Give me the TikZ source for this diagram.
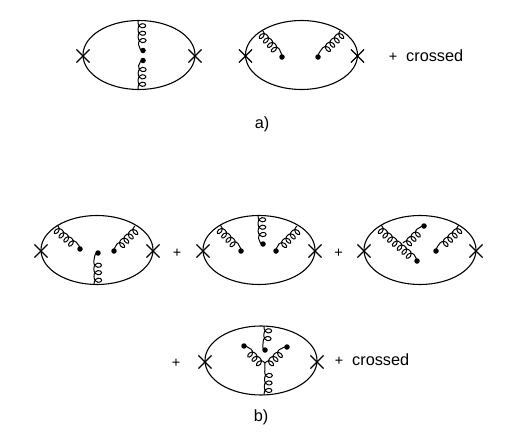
\documentclass[tikz,border=0pt]{standalone}
\usepackage{fontspec}
\setmainfont{Liberation Sans}
\usetikzlibrary{shapes.geometric,shapes.misc,decorations.pathmorphing}
\def\gw{7.5pt}
\pgfdeclaredecoration{gloop}{loopstate}{
  \state{loopstate}[width=\gw,switch if less than=\gw to finalstate]{
    \pgfpathcurveto{\pgfpoint{\gw+0.4pt}{0.2pt}}{\pgfpoint{\gw-1.1pt}{7.8pt}}{\pgfpoint{\gw/2}{7.8pt}}
    \pgfpathcurveto{\pgfpoint{1.1pt}{7.8pt}}{\pgfpoint{-0.4pt}{0.2pt}}{\pgfpoint{\gw}{0pt}}
  }
  \state{finalstate}{\pgfpathlineto{\pgfpointdecoratedpathlast}}
}
\tikzset{
  loopline/.style={draw,ellipse,line width=1.1pt,minimum width=112pt,minimum height=69pt,inner sep=0pt},
  xmark/.style={draw,cross out,line width=1.1pt,minimum size=12pt,inner sep=0pt},
  gdot/.style={fill=black,circle,minimum size=5.5pt,inner sep=0pt},
  gluon/.style={line width=1pt,line join=round,out looseness=1.4,in looseness=0.45,decorate,decoration={gloop,pre=curveto,post=curveto,pre length=1pt,post length=5pt}},
  gluonm/.style={gluon,decoration={mirror}},
  diag/.style={/utils/exec={\def\gw{6.2pt}},decoration={post length=3pt}},
  diagr/.style={/utils/exec={\def\gw{6.2pt}},decoration={post length=6pt}},
  lab/.style={font=\fontsize{16.3}{19}\selectfont,inner sep=0pt},
  plus/.style={font=\fontsize{14.5}{17}\selectfont,inner sep=0pt},
}
\begin{document}
\begin{tikzpicture}[x=1pt,y=-1pt]
\useasboundingbox (0,0) rectangle (507,442);
% diagram 1
\node[loopline] (L1) at (139,55) {};
\node[xmark] (X1a) at (83,56) {};
\node[xmark] (X1b) at (195,56) {};
\coordinate (V1a) at (138,21);
\coordinate (V1b) at (138,89);
\node[gdot] (D1a) at (143,50.5) {};
\node[gdot] (D1b) at (143,60.5) {};
\draw[gluon] (V1a) to[out=-90,in=-170] (D1a.center);
\draw[gluonm] (V1b) to[out=90,in=170] (D1b.center);
% diagram 2
\node[loopline] (L2) at (301.5,55) {};
\node[xmark] (X2a) at (245.5,56) {};
\node[xmark] (X2b) at (357.5,56) {};
\coordinate (V2a) at (262,30);
\coordinate (V2b) at (341,30);
\node[gdot] (D2a) at (282,57) {};
\node[gdot] (D2b) at (318,57) {};
\draw[gluonm,diag] (V2a) to[out=-45,in=90] (D2a.center);
\draw[gluon,diagr] (V2b) to[out=-135,in=90] (D2b.center);
\node[plus] (P1) at (393,57) {+};
\node[lab,anchor=west] (C1) at (406,56) {crossed};
\node[lab] (A) at (262,124) {a)};
% diagram 3
\node[loopline] (L3) at (97,250) {};
\node[xmark] (X3a) at (41,251) {};
\node[xmark] (X3b) at (153,251) {};
\coordinate (V3a) at (57,225);
\coordinate (V3b) at (135,226);
\coordinate (V3c) at (94,285);
\node[gdot] (D3a) at (80,249) {};
\node[gdot] (D3b) at (114,251) {};
\node[gdot] (D3c) at (98,253) {};
\draw[gluonm,diag] (V3a) to[out=-45,in=90] (D3a.center);
\draw[gluon,diagr] (V3b) to[out=-135,in=90] (D3b.center);
\draw[gluonm] (V3c) to[out=90,in=170] (D3c.center);
\node[plus] (P2) at (177,253) {+};
% diagram 4
\node[loopline] (L4) at (259,250) {};
\node[xmark] (X4a) at (203,251) {};
\node[xmark] (X4b) at (315,251) {};
\coordinate (V4a) at (220,225);
\coordinate (V4b) at (258,215);
\coordinate (V4c) at (297,226);
\node[gdot] (D4a) at (241,251) {};
\node[gdot] (D4b) at (263,244) {};
\node[gdot] (D4c) at (276,251) {};
\draw[gluonm,diag] (V4a) to[out=-45,in=90] (D4a.center);
\draw[gluon] (V4b) to[out=-90,in=-170] (D4b.center);
\draw[gluon,diagr] (V4c) to[out=-135,in=90] (D4c.center);
\node[plus] (P3) at (338.5,253) {+};
% diagram 5
\node[loopline] (L5) at (420,250) {};
\node[xmark] (X5a) at (364,251) {};
\node[xmark] (X5b) at (476,251) {};
\coordinate (V5a) at (381,225);
\coordinate (V5b) at (403,243);
\coordinate (V5c) at (459,225);
\node[gdot] (D5a) at (417,261) {};
\node[gdot] (D5b) at (424,226) {};
\node[gdot] (D5c) at (436,251) {};
\draw[gluonm,diag] (V5a) to[out=-45,in=100] (D5a.center);
\draw[gluonm,diag] (V5b) to[out=45,in=180] (D5b.center);
\draw[gluon,diagr] (V5c) to[out=-135,in=90] (D5c.center);
% diagram 6
\node[loopline] (L6) at (261,360.5) {};
\node[xmark] (X6a) at (205,362) {};
\node[xmark] (X6b) at (317,362) {};
\coordinate (V6a) at (264,326);
\coordinate (V6b) at (264,395);
\coordinate (V6j) at (265,363);
\node[gdot] (D6a) at (265,350) {};
\node[gdot] (D6b) at (244,346) {};
\node[gdot] (D6c) at (287,347) {};
\draw[gluon] (V6a) to[out=-90,in=-170] (D6a.center);
\draw[gluonm] (V6b) -- (V6j);
\draw[gluon,diag] (V6j) to[out=135,in=0] (D6b.center);
\draw[gluonm,diag] (V6j) to[out=45,in=170] (D6c.center);
\node[plus] (P4) at (176,363) {+};
\node[plus] (P5) at (339,361) {+};
\node[lab,anchor=west] (C2) at (352,360) {crossed};
\node[lab] (B) at (261,417) {b)};
\end{tikzpicture}
\end{document}
